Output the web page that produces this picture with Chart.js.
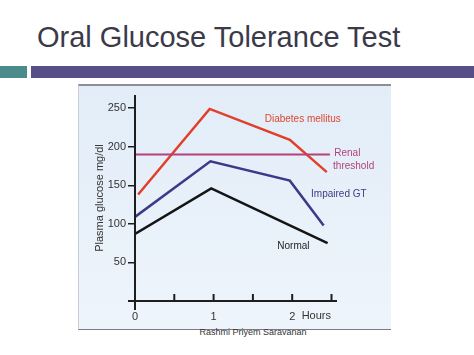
<!DOCTYPE html>
<html><head><meta charset="utf-8">
<script src="https://cdn.jsdelivr.net/npm/chart.js@4"></script>
<style>
html,body{margin:0;padding:0;background:#fff;width:474px;height:355px;overflow:hidden;font-family:"Liberation Sans",Arial,sans-serif;}
#title{position:absolute;left:37px;top:21px;font-size:29px;color:#3a3a48;white-space:nowrap;}
#bar1{position:absolute;left:0;top:66px;width:27px;height:12px;background:#4b8b8c;}
#bar2{position:absolute;left:31px;top:66px;width:443px;height:12px;background:#575088;}
#box{position:absolute;left:78px;top:84px;width:313px;height:246px;background:linear-gradient(#e2edf8,#eef4fb);border-top:2px solid #8e8e96;border-left:1px solid #c8ccd4;border-bottom:1px solid #7a7a80;box-sizing:border-box;}
#src{position:absolute;left:0;width:506px;text-align:center;top:327px;font-size:9px;color:#333;}
canvas{position:absolute;left:0;top:0;}
</style></head>
<body>
<div id="title">Oral Glucose Tolerance Test</div>
<div id="bar1"></div><div id="bar2"></div>
<div id="box"></div>
<div id="src">Rashmi Priyem Saravanan</div>
<canvas id="c" width="474" height="355"></canvas>
<script>
// Time (hours) and plasma glucose (mg/dl)
const diabetesX = [0.04, 0.95, 1.97, 2.44];
const diabetesY = [138, 249, 209, 167];
const impairedX = [0.0, 0.96, 1.97, 2.40];
const impairedY = [109, 181, 156, 98];
const normalX = [0.0, 0.97, 2.45];
const normalY = [87, 146, 75];
const renalX = [0.0, 2.48];
const renalY = [190, 190];
const seriesNames = ["Diabetes mellitus", "Impaired GT", "Normal", "Renal threshold"];
const yTicks = [50, 100, 150, 200, 250];
const xTicks = [0, 0.5, 1, 1.5, 2, 2.5];
const xLabels = ["0", "", "1", "", "2", ""];
const xUnit = "Hours";
const yTitle = "Plasma glucose mg/dl";

const pts = (xs, ys) => xs.map((x, i) => ({x, y: ys[i]}));
const FONT = "'Liberation Sans', Arial, sans-serif";

const labelPlugin = {
  id: 'labels',
  afterDatasetsDraw(chart) {
    const {ctx, scales:{x, y}} = chart;
    ctx.save();
    ctx.strokeStyle = '#1e1e1e'; ctx.lineWidth = 2;
    ctx.beginPath();
    ctx.moveTo(x.getPixelForValue(0), y.getPixelForValue(267));
    ctx.lineTo(x.getPixelForValue(0), y.getPixelForValue(0) + 9);
    ctx.moveTo(x.getPixelForValue(0) - 7, y.getPixelForValue(0));
    ctx.lineTo(x.getPixelForValue(2.57), y.getPixelForValue(0));
    xTicks.forEach(v => {
      if (v === 0) return;
      const px = x.getPixelForValue(v);
      ctx.moveTo(px, y.getPixelForValue(0));
      ctx.lineTo(px, y.getPixelForValue(0) - 7);
    });
    ctx.stroke();
    ctx.font = '10px ' + FONT;
    ctx.textBaseline = 'middle';
    const put = (t, vx, vy, col) => { ctx.fillStyle = col; ctx.fillText(t, x.getPixelForValue(vx), y.getPixelForValue(vy)); };
    ctx.textAlign = 'left';
    put(seriesNames[0], 1.65, 235, '#e0462f');
    put("Renal", 2.535, 191, '#b0437e');
    put("threshold", 2.52, 175, '#b0437e');
    put(seriesNames[1], 2.24, 139, '#3d3b86');
    put(seriesNames[2], 1.81, 71, '#1e1e1e');
    ctx.font = '11px ' + FONT;
    put(xUnit, 2.12, -20, '#333');
    ctx.restore();
  }
};

new Chart(document.getElementById('c'), {
  type: 'line',
  data: {
    datasets: [
      {label: seriesNames[3], data: pts(renalX, renalY), borderColor: '#b4407c', borderWidth: 2},
      {label: seriesNames[0], data: pts(diabetesX, diabetesY), borderColor: '#e0402a', borderWidth: 2.5},
      {label: seriesNames[1], data: pts(impairedX, impairedY), borderColor: '#3b3a88', borderWidth: 2.5},
      {label: seriesNames[2], data: pts(normalX, normalY), borderColor: '#141414', borderWidth: 2.5}
    ]
  },
  options: {
    responsive: false, animation: false,
    elements: {point: {radius: 0}, line: {tension: 0, borderCapStyle: 'butt'}},
    layout: {padding: {left: 89, top: 95, right: 137, bottom: 32}},
    plugins: {legend: {display: false}, tooltip: {enabled: false}},
    scales: {
      x: {
        type: 'linear', min: 0, max: 2.57,
        afterBuildTicks: s => { s.ticks = xTicks.map(v => ({value: v})); },
        afterFit: s => { s.height = 22; },
        grid: {display: false, drawTicks: false},
        border: {display: false},
        ticks: {autoSkip: false, maxRotation: 0, padding: 9, color: '#333', font: {size: 11, family: FONT},
          callback: (v, i) => xLabels[i]}
      },
      y: {
        min: 0, max: 267,
        afterBuildTicks: s => { s.ticks = yTicks.map(v => ({value: v})); },
        afterFit: s => { s.width = 46; },
        grid: {drawOnChartArea: false, drawTicks: true, tickLength: 7, color: '#1e1e1e', lineWidth: 1.5},
        border: {display: false},
        ticks: {padding: 2, color: '#333', font: {size: 11, family: FONT}},
        title: {display: true, text: yTitle, color: '#333', font: {size: 11, family: FONT}, padding: {top: 4, bottom: 0}}
      }
    }
  },
  plugins: [labelPlugin]
});
</script>
</body></html>
